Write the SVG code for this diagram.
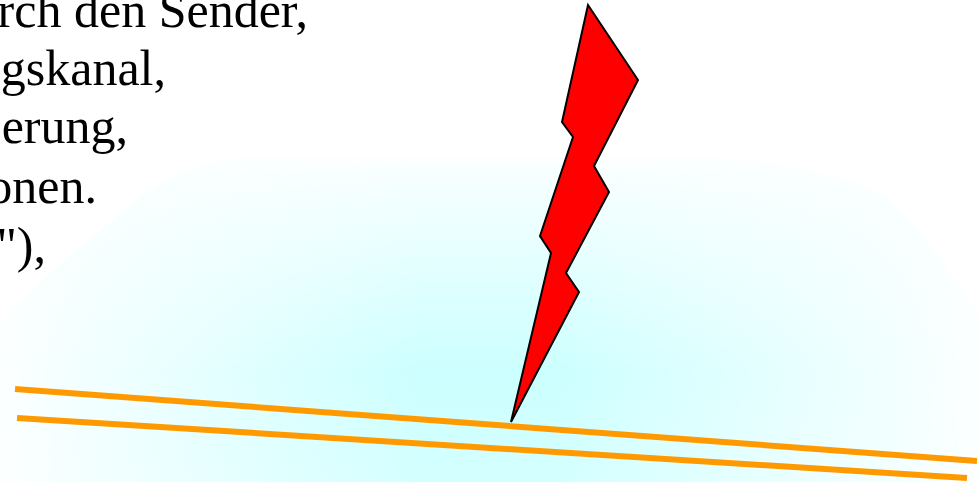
<svg xmlns="http://www.w3.org/2000/svg" width="979" height="482" viewBox="0 0 979 482">
<style>
.t{font-family:"Liberation Serif","Times New Roman",serif;font-size:50px;fill:#000;text-anchor:end}
.w{fill:none;stroke:#ff9900;stroke-width:6}
</style>
<defs>
<linearGradient id="v" gradientUnits="userSpaceOnUse" x1="0" y1="155" x2="0" y2="482">
<stop offset="0" stop-color="#ccffff" stop-opacity="0"/>
<stop offset="0.66" stop-color="#ccffff" stop-opacity="1"/>
<stop offset="1" stop-color="#ccffff" stop-opacity="0.85"/>
</linearGradient>
<linearGradient id="h" gradientUnits="userSpaceOnUse" x1="0" y1="0" x2="979" y2="0">
<stop offset="0" stop-color="#000"/>
<stop offset="0.43" stop-color="#fff"/>
<stop offset="0.57" stop-color="#fff"/>
<stop offset="1" stop-color="#000"/>
</linearGradient>
<mask id="m" maskUnits="userSpaceOnUse" x="0" y="0" width="979" height="482" style="mask-type:luminance">
<rect width="979" height="482" fill="url(#h)"/>
</mask>
<clipPath id="c">
<path d="M0 325L17 303L50 273L133 203C165 178 195 162 240 158L720 158C770 162 815 170 847 180C865 186 880 193 893 203C903 212 912 222 920 233L979 312L979 482L0 482Z"/>
</clipPath>
</defs>
<rect width="979" height="482" fill="#fff"/>
<g clip-path="url(#c)"><rect id="glow" width="979" height="482" fill="#fcffff"/><rect width="979" height="482" fill="url(#v)" mask="url(#m)"/></g>
<g id="text">
<text class="t" x="308" y="27">rch den Sender,</text>
<text class="t" x="166" y="85">gskanal,</text>
<text class="t" x="128" y="143">erung,</text>
<text class="t" x="97" y="203">onen.</text>
<text class="t" x="46" y="262">"),</text>
</g>
<g id="connectors">
<path class="w" d="M15 389L977 461"/>
<path class="w" d="M17 418L967 478"/>
</g>
<g id="bolt">
<polygon points="588,5 638,80 594,166 609,192 566,273 579,292 511,422 551,253 540,236 573,137 562,122" fill="#ff0000" stroke="#000" stroke-width="2" stroke-linejoin="miter"/>
</g>
</svg>
